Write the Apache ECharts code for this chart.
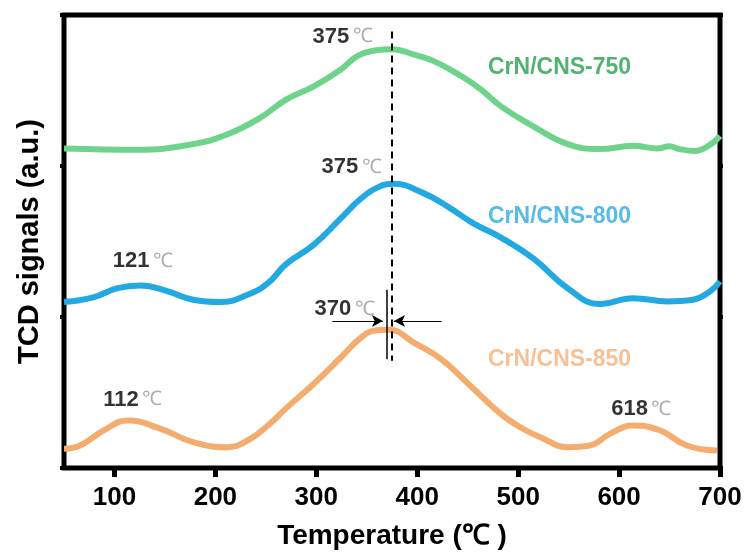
<!DOCTYPE html>
<html lang="en">
<head>
<meta charset="utf-8">
<title>TCD profiles</title>
<script src="https://cdn.jsdelivr.net/npm/echarts@6/dist/echarts.min.js"></script>
<style>
  html, body { margin: 0; padding: 0; background: #fff; }
  #chart { width: 748px; height: 555px; }
</style>
</head>
<body>
<div id="chart"></div>
<script>
// [temperature (C), signal], signal in offset a.u. (0-30)
var cns750 = [[50,21.16],[123,21.07],[178,21.45],[212,22.1],[245,23.22],[270,24.4],[297,25.26],[324,26.38],
  [341,27.3],[358,27.65],[375,27.74],[397,27.37],[417,26.93],[444,25.94],[463,25.07],[483,23.95],[515,22.63],
  [549,21.45],[581,21.12],[614,21.34],[638,21.16],[650,21.3],[660,21.12],[675,21.0],[690,21.4],[700,21.99]];
var cns800 = [[50,10.99],[79,11.30],[103,11.91],[126,12.09],[153,11.69],[178,11.14],[205,10.99],[232,11.47],
  [252,12.24],[270,13.5],[297,14.76],[324,16.51],[344,17.83],[363,18.65],[376,18.82],[404,18.27],[431,17.28],
  [456,16.18],[483,15.26],[515,13.88],[549,11.91],[581,10.86],[614,11.25],[648,11.03],[673,11.14],[690,11.69],[700,12.35]];
var cns850 = [[50,1.27],[66,1.49],[89,2.48],[113,3.14],[146,2.59],[178,1.71],[212,1.38],[232,1.82],[252,2.81],
  [270,3.95],[297,5.55],[324,7.30],[344,8.62],[358,9.1],[372,9.16],[397,8.29],[424,7.20],[451,5.55],[483,3.57],
  [502,2.70],[522,2.04],[549,1.38],[571,1.49],[591,2.26],[614,2.81],[641,2.48],[667,1.49],[697,1.16]];

var seriesNames = ['CrN/CNS-750', 'CrN/CNS-800', 'CrN/CNS-850'];
var xTicks = [100, 200, 300, 400, 500, 600, 700];

// peak labels: [x, y, value]
var peakLabels = [[326, 28.55, '375'], [335, 19.93, '375'], [128, 13.68, '121'],
  [328, 10.53, '370'], [118, 4.54, '112'], [622, 3.88, '618']];
// sample names: [x, y]
var nameSpots = [[541, 26.51], [541, 16.64], [541, 7.17]];

var FONT = '"Liberation Sans", Arial, sans-serif';
var lineColors = ['#6fd48b', '#23a9e1', '#f4ad6f'];
var textColors = ['#26a04e', '#2aaae2', '#f5b07a'];

var chart = echarts.init(document.getElementById('chart'));

var series = [];
[cns750, cns800, cns850].forEach(function (d, i) {
    series.push({
        name: seriesNames[i],
        type: 'line',
        data: d,
        smooth: 0.45,
        showSymbol: false,
        lineStyle: { color: lineColors[i], width: 6 }
    });
});

// sample names
series.push({
    type: 'scatter',
    symbolSize: 0,
    silent: true,
    data: nameSpots.map(function (p, i) {
        return {
            value: p,
            label: {
                show: true, position: 'inside', formatter: seriesNames[i],
                color: textColors[i], fontSize: 23, fontWeight: 'bold', fontFamily: FONT
            }
        };
    })
});

// peak temperatures
series.push({
    type: 'scatter',
    symbolSize: 0,
    silent: true,
    data: peakLabels.map(function (p) {
        return {
            value: [p[0], p[1]],
            label: {
                show: true, position: 'inside',
                formatter: '{n|' + p[2] + '} {u|℃}',
                rich: {
                    n: { fontSize: 22, fontWeight: 'bold', color: '#000', fontFamily: FONT },
                    u: { fontSize: 20, color: '#999', fontFamily: FONT }
                }
            }
        };
    })
});

// dashed guide at 375, solid guide at 370, and the two arrows
series.push({
    type: 'line',
    data: [],
    silent: true,
    markLine: {
        silent: true,
        symbol: 'none',
        label: { show: false },
        lineStyle: { color: '#000', width: 2, type: [7, 5] },
        data: [[{ coord: [375, 28.9] }, { coord: [375, 7.1] }]]
    }
});
series.push({
    type: 'line',
    data: [],
    silent: true,
    markLine: {
        silent: true,
        symbol: 'none',
        label: { show: false },
        lineStyle: { color: '#000', width: 1.5, type: 'solid' },
        data: [[{ coord: [370, 11.8] }, { coord: [370, 7.2] }]]
    }
});
series.push({
    type: 'line',
    data: [],
    silent: true,
    markLine: {
        silent: true,
        symbol: ['none', 'arrow'],
        symbolSize: [9, 11],
        label: { show: false },
        lineStyle: { color: '#000', width: 1.2, type: 'solid' },
        data: [
            [{ coord: [316, 9.74] }, { coord: [366, 9.74] }],
            [{ coord: [424, 9.74] }, { coord: [377, 9.74] }]
        ]
    }
});

var option = {
    animation: false,
    grid: {
        left: 64, right: 28, top: 15, bottom: 84,
        show: true, borderColor: '#000', borderWidth: 5
    },
    xAxis: {
        type: 'value',
        min: 50,
        max: 700,
        name: 'Temperature (℃ )',
        nameLocation: 'middle',
        nameGap: 54,
        nameTextStyle: { fontSize: 28, fontWeight: 'bold', color: '#000', fontFamily: FONT },
        axisLine: { show: false },
        axisTick: { show: true, customValues: xTicks, length: 9, lineStyle: { color: '#000', width: 5 } },
        axisLabel: { customValues: xTicks, margin: 17, fontSize: 26, fontWeight: 'bold', color: '#000', fontFamily: FONT },
        splitLine: { show: false }
    },
    yAxis: [{
        type: 'value',
        min: 0,
        max: 30,
        interval: 10,
        name: 'TCD signals (a.u.)',
        nameLocation: 'middle',
        nameGap: 20,
        nameTextStyle: { fontSize: 29, fontWeight: 'bold', color: '#000', fontFamily: FONT },
        axisLine: { show: false },
        axisTick: { show: true, length: 4, lineStyle: { color: '#000', width: 4 } },
        axisLabel: { show: false },
        splitLine: { show: false }
    }, {
        type: 'value',
        position: 'right',
        min: 0,
        max: 30,
        interval: 10,
        axisLine: { show: false },
        axisTick: { show: true, length: 3, lineStyle: { color: '#000', width: 4 } },
        axisLabel: { show: false },
        splitLine: { show: false }
    }],
    series: series
};

chart.setOption(option);
</script>
</body>
</html>
